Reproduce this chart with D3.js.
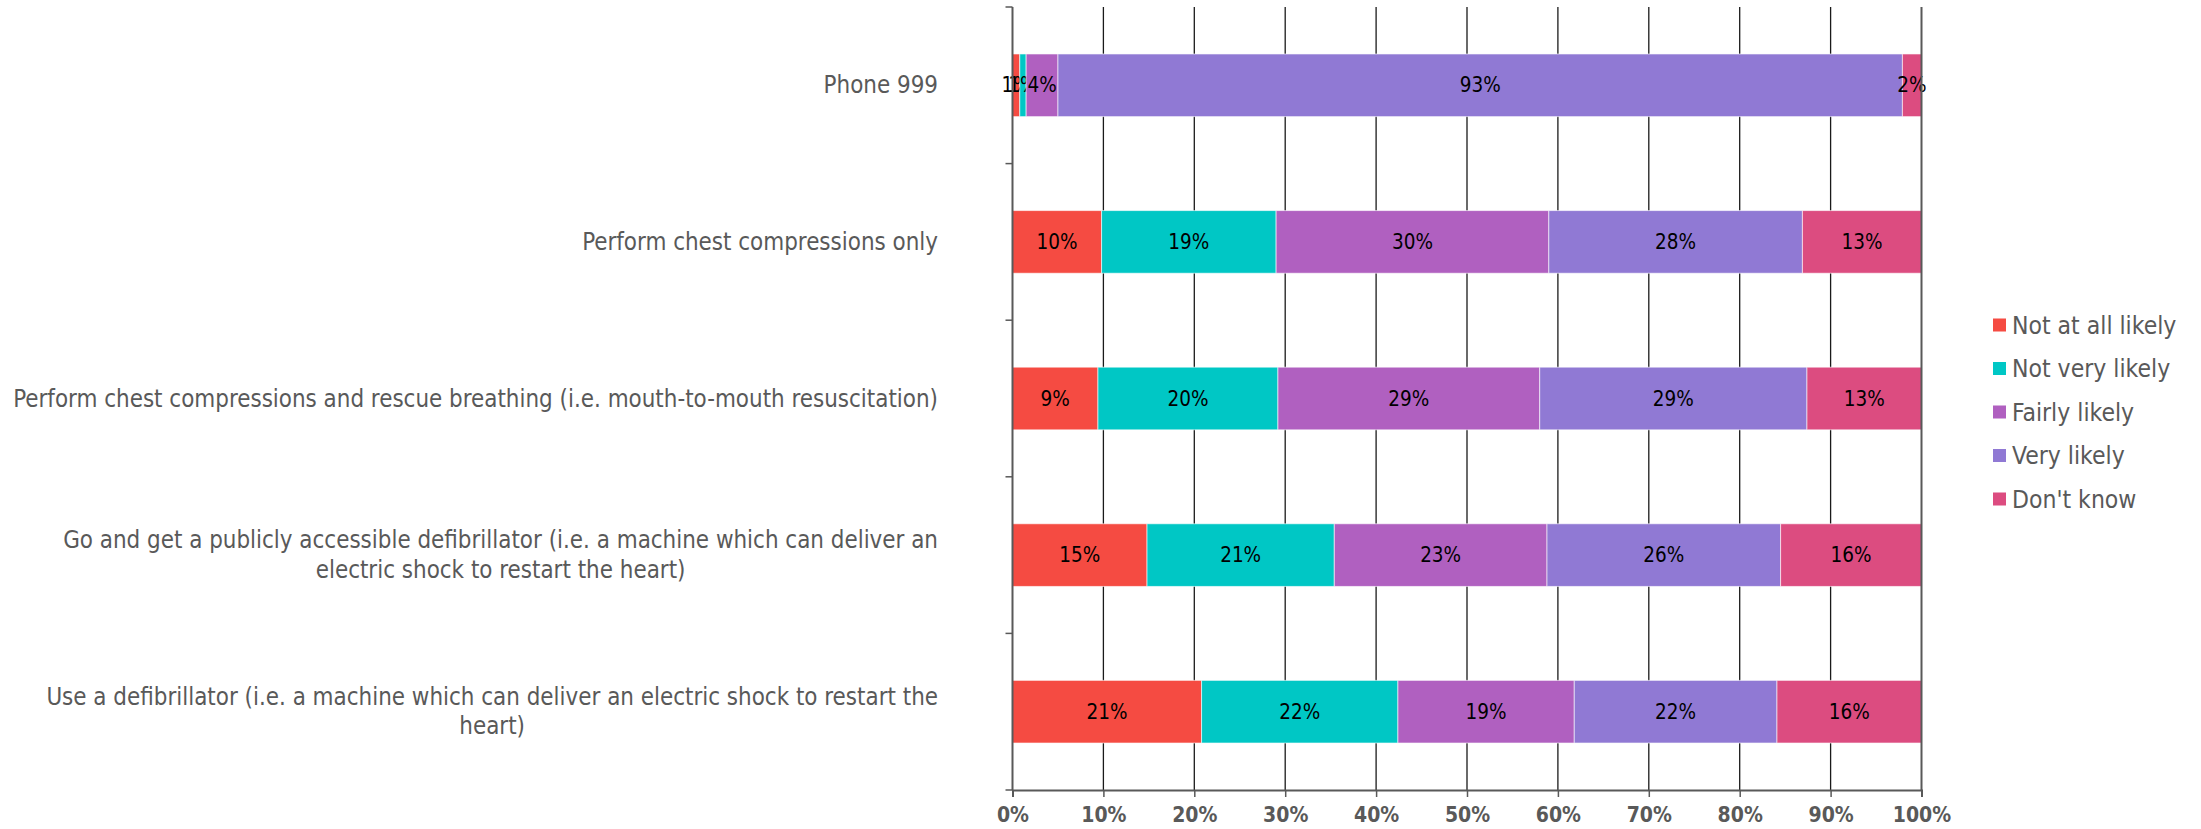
<!DOCTYPE html>
<html>
<head>
<meta charset="utf-8">
<script src="https://cdn.jsdelivr.net/npm/d3@7"></script>
<style>
  html, body { margin: 0; padding: 0; background: #fff; }
  svg { display: block; }
  text { font-family: "DejaVu Sans Condensed", "DejaVu Sans", sans-serif; font-stretch: condensed; }
</style>
</head>
<body>
<svg id="chart" width="2201" height="829"></svg>
<script>
// ---- data ----
const categories = [
  ["Phone 999"],
  ["Perform chest compressions only"],
  ["Perform chest compressions and rescue breathing (i.e. mouth-to-mouth resuscitation)"],
  ["Go and get a publicly accessible defibrillator (i.e. a machine which can deliver an", "electric shock to restart the heart)"],
  ["Use a defibrillator (i.e. a machine which can deliver an electric shock to restart the", "heart)"]
];
const seriesNames = ["Not at all likely", "Not very likely", "Fairly likely", "Very likely", "Don't know"];
const notAtAllLikely = [0.8, 9.8, 9.4, 14.8, 20.8];
const notVeryLikely  = [0.7, 19.2, 19.8, 20.6, 21.6];
const fairlyLikely   = [3.5, 30.0, 28.8, 23.4, 19.4];
const veryLikely     = [92.9, 27.9, 29.4, 25.7, 22.3];
const dontKnow       = [2.1, 13.1, 12.6, 15.5, 15.9];
const xTickValues = [0, 10, 20, 30, 40, 50, 60, 70, 80, 90, 100];
const colors = ["#f54b42", "#00c7c5", "#b060c0", "#9079d4", "#dc4c80"];

const seriesValues = [notAtAllLikely, notVeryLikely, fairlyLikely, veryLikely, dontKnow];
const rows = categories.map((c, i) => {
  const r = { idx: i, label: c };
  seriesNames.forEach((s, j) => r[s] = seriesValues[j][i]);
  return r;
});

// ---- layout ----
const svg = d3.select("#chart");
const plot = { left: 1012.5, right: 1921.5, top: 7, bottom: 790 };

const x = d3.scaleLinear().domain([0, 100]).range([plot.left, plot.right]);
const y = d3.scaleBand().domain(d3.range(categories.length))
  .range([plot.top, plot.bottom]).paddingInner(0.6).paddingOuter(0.3);

const grey = "#595959";

// gridlines
svg.append("g").selectAll("line").data(xTickValues.filter(v => v > 0 && v < 100)).join("line")
  .attr("x1", d => x(d)).attr("x2", d => x(d))
  .attr("y1", plot.top).attr("y2", plot.bottom)
  .attr("stroke", "#1a1a1a").attr("stroke-width", 1.3);

// bars
const stack = d3.stack().keys(seriesNames)(rows);
const layers = svg.append("g").selectAll("g").data(stack).join("g")
  .attr("fill", (d, i) => colors[i]);
layers.selectAll("rect").data(d => d).join("rect")
  .attr("x", d => x(d[0]))
  .attr("width", d => x(d[1]) - x(d[0]))
  .attr("y", d => y(d.data.idx))
  .attr("height", y.bandwidth())
  .attr("stroke", "#ffffff").attr("stroke-opacity", 0.6).attr("stroke-width", 1);

// data labels
layers.selectAll("text").data(d => d).join("text")
  .attr("x", d => (x(d[0]) + x(d[1])) / 2)
  .attr("y", d => y(d.data.idx) + y.bandwidth() / 2)
  .attr("text-anchor", "middle").attr("dominant-baseline", "central")
  .attr("font-size", 20.5).attr("fill", "#000")
  .text(d => Math.round(d[1] - d[0]) + "%");

// y axis line + left ticks at band boundaries
const yTickPos = d3.range(categories.length + 1).map(i => plot.top + i * (plot.bottom - plot.top) / categories.length);
svg.append("line").attr("x1", plot.left).attr("x2", plot.left)
  .attr("y1", plot.top).attr("y2", plot.bottom)
  .attr("stroke", grey).attr("stroke-width", 2);
svg.append("g").selectAll("line").data(yTickPos).join("line")
  .attr("x1", plot.left - 7).attr("x2", plot.left)
  .attr("y1", d => d).attr("y2", d => d)
  .attr("stroke", grey).attr("stroke-width", 1.5);

// right 100% line
svg.append("line").attr("x1", x(100)).attr("x2", x(100))
  .attr("y1", plot.top).attr("y2", plot.bottom)
  .attr("stroke", grey).attr("stroke-width", 2);

// x axis
const xAxis = d3.axisBottom(x).tickValues(xTickValues).tickFormat(d => d + "%").tickSize(7).tickPadding(10);
const gx = svg.append("g").attr("transform", `translate(0,${plot.bottom})`).call(xAxis);
gx.select(".domain").attr("stroke", grey).attr("stroke-width", 2);
gx.selectAll(".tick line").attr("stroke", grey).attr("stroke-width", 1.5);
gx.selectAll(".tick text").attr("fill", grey).attr("font-size", 21).attr("font-weight", "bold")
  .attr("font-family", "'DejaVu Sans Condensed', 'DejaVu Sans', sans-serif");

// category labels
const labelRight = 938;
const lineH = 29.5;
const catG = svg.append("g");
categories.forEach((lines, i) => {
  const t = catG.append("text").attr("font-size", 23.9).attr("fill", grey)
    .attr("text-anchor", "middle").attr("dominant-baseline", "central");
  const cy = y(i) + y.bandwidth() / 2;
  const spans = lines.map((ln, k) => t.append("tspan").text(ln)
    .attr("y", cy + (k - (lines.length - 1) / 2) * lineH));
  const maxW = d3.max(spans, s => s.node().getComputedTextLength());
  const cx = labelRight - maxW / 2;
  spans.forEach(s => s.attr("x", cx));
});

// legend
const legendY = [325, 368.5, 412, 455.5, 499];
const lg = svg.append("g");
seriesNames.forEach((s, i) => {
  lg.append("rect").attr("x", 1993).attr("y", legendY[i] - 6.5).attr("width", 13).attr("height", 13).attr("fill", colors[i]);
  lg.append("text").attr("x", 2012).attr("y", legendY[i]).attr("dominant-baseline", "central")
    .attr("font-size", 24.5).attr("fill", grey).text(s);
});
</script>
</body>
</html>
